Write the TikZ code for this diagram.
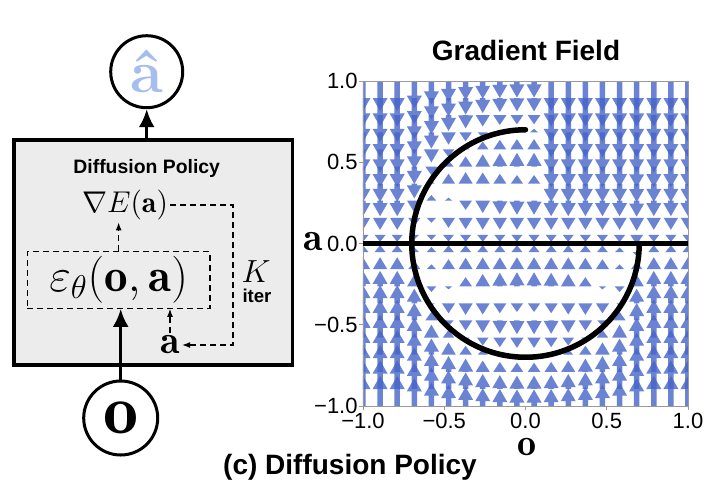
\documentclass[tikz,border=0pt]{standalone}
\usepackage{fix-cm}
\usepackage{fontspec}
\setsansfont{Liberation Sans}
\usetikzlibrary{arrows.meta}
\definecolor{quiverblue}{RGB}{70,100,200}
\definecolor{hatblue}{RGB}{165,190,238}
\definecolor{boxgray}{RGB}{236,236,236}
\tikzset{
  bigcirc/.style={circle, draw, line width=1.5pt, minimum size=36pt, inner sep=0pt},
  thickarrow/.style={line width=1.5pt, -{Latex[length=9pt,width=8pt]}},
  dashline/.style={line width=0.6pt, dash pattern=on 3pt off 2pt},
  dasharrow/.style={dashline, -{Latex[length=4pt,width=3pt]}},
  ticklab/.style={font=\fontsize{11}{12}\sffamily, inner sep=0pt},
}

\begin{document}
\begin{tikzpicture}[x=0.5pt,y=-0.5pt]
		%%%%% START %%%%%
		\useasboundingbox (0,0) rectangle (720,495);
		
		% left: the policy block
		\node[draw, fill=boxgray, line width=1.75pt, minimum width=139.35pt, minimum height=112.5pt, inner sep=0pt] (policy) at (153.35,252.5) {};
		\node[font=\fontsize{9.7}{10}\sffamily\bfseries] (title) at (146.7,168) {Diffusion Policy};
		
		\node[bigcirc, text=hatblue] (ahat) at (146.7,71.7) {\fontsize{30}{30}\selectfont\rmfamily\bfseries â};
		\draw[thickarrow] (ahat |- policy.north) -- (ahat.south);
		
		\node[inner sep=1pt] (grad) at (125,205) {\fontsize{15}{15}\selectfont$\nabla E(\mathbf{a})$};
		\node[draw, dashline, minimum width=91.35pt, minimum height=28.3pt, inner sep=0pt] (eps) at (118.65,280) {\fontsize{23.5}{23.5}\selectfont$\varepsilon_\theta(\mathbf{o},\mathbf{a})$};
		\draw[dasharrow] (eps.north) -- (eps.north |- grad.south);
		
		\node[inner sep=1pt] (K) at (256,272) {\fontsize{16}{16}\selectfont$K$};
		\node[font=\fontsize{9.3}{10}\sffamily\bfseries, inner sep=1pt] (iter) at (257,296) {iter};
		
		\node[inner sep=1pt] (aiter) at (170,345) {\fontsize{20}{20}\selectfont$\mathbf{a}$};
		\coordinate (loopR) at (233,205);
		\draw[dasharrow] (grad.east) -- (grad.east -| loopR) -- (aiter.east -| loopR) -- (aiter.east);
		\draw[dasharrow] (aiter.north) -- (aiter.north |- eps.south);
		
		\node[bigcirc, minimum size=37pt] (obs) at (120.7,418) {\fontsize{35}{35}\selectfont$\mathbf{o}$};
		\draw[thickarrow] (obs.north) -- (obs.north |- eps.south);
		
		% right: the gradient field
		\node[font=\fontsize{14}{15}\sffamily\bfseries] (fieldtitle) at (526,50) {Gradient Field};
		\begin{scope}[shift={(525.5,243.5)}]
			\clip (-162.5,-162.5) rectangle (162.5,162.5);
			\foreach \i in {0,...,19}{
				\foreach \j in {0,...,19}{
					\pgfmathsetmacro\oo{-1+\i*2/19}
					\pgfmathsetmacro\aa{-1+\j*2/19}
					\pgfmathsetmacro\mc{sqrt(max(0.49-(\oo)*(\oo),0))}
					\pgfmathsetmacro\wup{(\oo>-0.7 && \oo<0.07) ? 1 : 0}
					\pgfmathsetmacro\wlo{(abs(\oo)<0.7) ? 1 : 0}
					\pgfmathsetmacro\dz{-(\aa)}
					\pgfmathsetmacro\du{\mc-(\aa)}
					\pgfmathsetmacro\dl{-\mc-(\aa)}
					\pgfmathsetmacro\ez{(\dz)*(\dz)}
					\pgfmathsetmacro\eu{\wup>0 ? (\du)*(\du) : 9}
					\pgfmathsetmacro\el{\wlo>0 ? (\dl)*(\dl) : 9}
					\pgfmathsetmacro\emin{min(\ez,\eu,\el)}
					\pgfmathsetmacro\wz{exp(max(-(\ez-\emin)*22.2,-12))}
					\pgfmathsetmacro\wu{\wup*exp(max(-(\eu-\emin)*22.2,-12))}
					\pgfmathsetmacro\wl{\wlo*exp(max(-(\el-\emin)*22.2,-12))}
					\pgfmathsetmacro\ss{(\wz*(\dz)+\wu*(\du)+\wl*(\dl))/(\wz+\wu+\wl)}
					\pgfmathsetmacro\len{30*sqrt(abs(\ss))}
					\pgfmathsetmacro\dir{\ss>0 ? -1 : 1}
					\pgfmathsetmacro\hd{min(\len,13)}
					\pgfmathsetmacro\hw{7.5*sqrt(\hd/13)}
					\pgfmathsetmacro\qx{162.5*(\oo)}
					\pgfmathsetmacro\qy{-162.5*(\aa)}
					\pgfmathsetmacro\qb{\qy+(\dir)*(\len-\hd)}
					\pgfmathsetmacro\qt{\qy+(\dir)*(\len)}
					\fill[quiverblue, fill opacity=0.8] (\qx-2.75,\qy) -- (\qx-2.75,\qb) -- (\qx-\hw,\qb) -- (\qx,\qt) -- (\qx+\hw,\qb) -- (\qx+2.75,\qb) -- (\qx+2.75,\qy) -- cycle;
				}
			}
		\end{scope}
		\begin{scope}[shift={(525.5,243.5)}]
			\draw[black!40, line width=0.4pt] (-162.5,-162.5) rectangle (162.5,162.5);
			\foreach \t/\lab in {-1/{−1.0},-0.5/{−0.5},0/{0.0},0.5/{0.5},1/{1.0}}{
				\draw[black!40, line width=0.4pt] (162.5*\t,162.5) -- (162.5*\t,166.5);
				\node[ticklab] at (162.5*\t,177) {\lab};
				\draw[black!40, line width=0.4pt] (-162.5,-162.5*\t) -- (-166.5,-162.5*\t);
				\node[ticklab, anchor=east] at (-167.5,-162.5*\t) {\lab};
			}
			% data: line and arc
			\draw[line width=2.75pt] (-162.5,0) -- (162.5,0);
			\draw[line width=2.75pt, line cap=round] plot[domain=90:360, samples=120, smooth] ({113.75*cos(\x)},{-113.75*sin(\x)});
		\end{scope}
		\node[inner sep=0pt] (alab) at (313,242) {\fontsize{20}{20}\selectfont$\mathbf{a}$};
		\node[inner sep=0pt] (olab) at (526.7,447) {\fontsize{19}{19}\selectfont$\mathbf{o}$};
		
		\node[font=\fontsize{14}{15}\sffamily\bfseries] (caption) at (350,467) {(c) Diffusion Policy};
		%%%%% END %%%%%
\end{tikzpicture}
\end{document}
